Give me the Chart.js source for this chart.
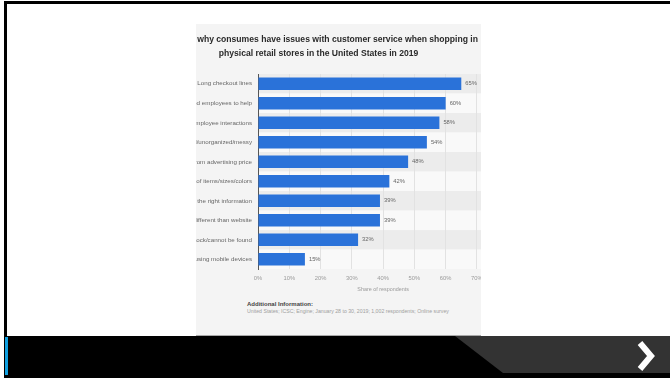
<!DOCTYPE html>
<html>
<head>
<meta charset="utf-8">
<script src="https://cdn.jsdelivr.net/npm/chart.js@4/dist/chart.umd.min.js"></script>
<style>
  html, body { margin: 0; padding: 0; background: #fff; width: 670px; height: 378px; overflow: hidden; }
  .frame-top { position: absolute; left: 4px; top: 1px; width: 666px; height: 3px; background: #000; }
  .frame-left { position: absolute; left: 4px; top: 1px; width: 3px; height: 377px; background: #000; }
  .card { position: absolute; left: 196px; top: 24px; width: 285px; height: 311px; background: #f4f4f4;
          overflow: hidden; box-shadow: 0 1px 0 #a8a8a8; }
  .card canvas { position: absolute; left: -79px; top: 0; }
  .info { position: absolute; left: 51px; font-family: "Liberation Sans", Arial, sans-serif; white-space: nowrap; }
  .info.head { top: 277px; font-size: 6px; font-weight: bold; color: #444; }
  .info.src { top: 284px; font-size: 5.2px; color: #a0a0a0; }
  .bar { position: absolute; left: 7px; top: 336px; width: 663px; height: 42px; background: #000; }
  .stripe { position: absolute; left: 5px; top: 337px; width: 3px; height: 38px; background: #10a0e0; }
  .nav { position: absolute; left: 0; top: 0; }
</style>
</head>
<body>
<div class="frame-top"></div>
<div class="frame-left"></div>
<div class="card">
  <canvas id="chart" width="403" height="269"></canvas>
  <div class="info head">Additional Information:</div>
  <div class="info src">United States; ICSC; Engine; January 28 to 30, 2019; 1,002 respondents; Online survey</div>
</div>
<div class="bar"></div>
<div class="stripe"></div>
<svg class="nav" width="670" height="378">
  <polygon points="455,336 670,336 670,373 503,373" fill="#333333"/>
  <polyline points="640,343 651,356 640,369" fill="none" stroke="#fff" stroke-width="6" stroke-linejoin="miter"/>
</svg>
<script>
// data
const categories = [
  'Long checkout lines',
  'Not enough trained employees to help',
  'Unpleasant employee interactions',
  'Store is cluttered/unorganized/messy',
  'Price at register different from advertising price',
  'Limited selection of items/sizes/colors',
  "Employees don't have the right information",
  'In-store prices different than website',
  'Item out of stock/cannot be found',
  'Employees using mobile devices'
];
const shares = [65, 60, 58, 54, 48, 42, 39, 39, 32, 15];
const titleLines = [
  'Reasons why consumes have issues with customer service when shopping in',
  'physical retail stores in the United States in 2019'
];
const axisMax = 80;
const axisStep = 10;

const FONT = '"Liberation Sans", Arial, Helvetica, sans-serif';

// alternating row bands behind the bars
const rowBands = {
  id: 'rowBands',
  beforeDraw(chart) {
    const { ctx, chartArea, scales } = chart;
    const y = scales.y;
    const half = (y.getPixelForValue(1) - y.getPixelForValue(0)) / 2;
    ctx.save();
    categories.forEach((c, i) => {
      const mid = y.getPixelForValue(i);
      ctx.fillStyle = i % 2 === 0 ? '#ececec' : '#f9f9f9';
      ctx.fillRect(chartArea.left, mid - half, chart.width - chartArea.left, half * 2);
    });
    ctx.restore();
  }
};

// value labels at the end of each bar
const valueLabels = {
  id: 'valueLabels',
  afterDatasetsDraw(chart) {
    const { ctx } = chart;
    const meta = chart.getDatasetMeta(0);
    ctx.save();
    ctx.font = '5.8px ' + FONT;
    ctx.fillStyle = '#666';
    ctx.textBaseline = 'middle';
    meta.data.forEach((bar, i) => {
      ctx.fillText(shares[i] + '%', bar.x + 4, bar.y);
    });
    ctx.restore();
  }
};

new Chart(document.getElementById('chart'), {
  type: 'bar',
  data: {
    labels: categories,
    datasets: [{
      data: shares,
      backgroundColor: '#2a72d9',
      borderWidth: 0,
      barPercentage: 0.64,
      categoryPercentage: 1
    }]
  },
  options: {
    indexAxis: 'y',
    responsive: false,
    animation: false,
    devicePixelRatio: 1,
    layout: { padding: 0 },
    plugins: {
      legend: { display: false },
      tooltip: { enabled: false },
      title: {
        display: true,
        text: titleLines,
        color: '#2a2a2a',
        font: { family: FONT, size: 8.6, weight: 'bold', lineHeight: 1.63 },
        padding: { top: 9, bottom: 13 }
      }
    },
    scales: {
      x: {
        min: 0,
        max: axisMax,
        ticks: {
          stepSize: axisStep,
          padding: 6,
          color: '#9a9a9a',
          font: { family: FONT, size: 5.8 },
          callback: (v) => v + '%'
        },
        grid: { color: '#e2e2e2', drawTicks: false },
        border: { display: false },
        title: {
          display: true,
          text: 'Share of respondents',
          color: '#9a9a9a',
          font: { family: FONT, size: 5.4 },
          padding: { top: -1.5, bottom: 0 }
        }
      },
      y: {
        afterFit: (scale) => { scale.width = 141; },
        ticks: {
          padding: 6,
          color: '#666',
          font: { family: FONT, size: 6.2 }
        },
        grid: { display: false, drawTicks: false },
        border: { display: true, color: '#555', width: 1 }
      }
    }
  },
  plugins: [rowBands, valueLabels]
});
</script>
</body>
</html>
